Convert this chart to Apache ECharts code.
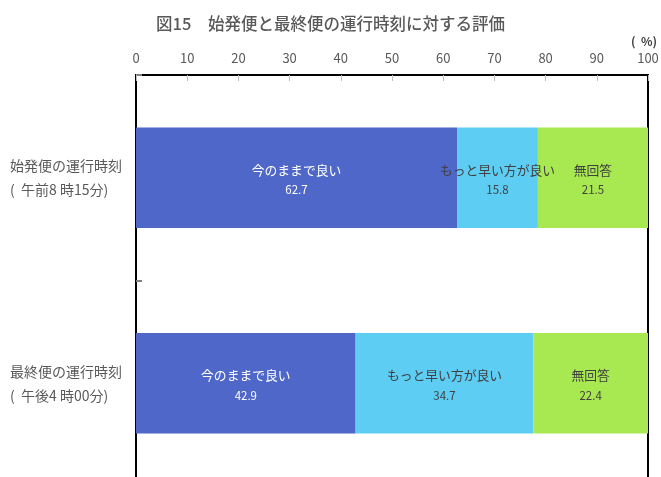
<!DOCTYPE html>
<html>
<head>
<meta charset="utf-8">
<script src="https://cdn.jsdelivr.net/npm/echarts@6/dist/echarts.min.js"></script>
<style>
html,body{margin:0;padding:0;background:#fff;}
#main{width:661px;height:477px;}
</style>
</head>
<body>
<div id="main"></div>
<script>
const categories = ['始発便の運行時刻\n(  午前8 時15分)', '最終便の運行時刻\n(  午後4 時00分)'];
const seriesNames = ['今のままで良い', 'もっと早い方が良い', '無回答'];
const valuesSame = [62.7, 42.9];
const valuesEarlier = [15.8, 34.7];
const valuesNoAnswer = [21.5, 22.4];
const xTicks = [0, 10, 20, 30, 40, 50, 60, 70, 80, 90, 100];

const FONT = '"Noto Sans CJK JP", "Noto Sans", sans-serif';
const colors = ['#4F67C9', '#5ECDF3', '#A8E851'];
const labelColors = ['#ffffff', '#404040', '#404040'];
const seriesData = [valuesSame, valuesEarlier, valuesNoAnswer];

const chart = echarts.init(document.getElementById('main'));
chart.setOption({
  animation: false,
  backgroundColor: '#ffffff',
  textStyle: { fontFamily: FONT },
  title: {
    text: '図15　始発便と最終便の運行時刻に対する評価',
    left: 'center',
    top: 10,
    textStyle: { fontFamily: FONT, fontSize: 16.5, fontWeight: 500, color: '#595959' }
  },
  graphic: [{
    type: 'text',
    right: 4,
    top: 35,
    style: { text: '(  %)', fontFamily: FONT, fontSize: 12, fontWeight: 'bold', fill: '#404040' }
  }],
  grid: {
    left: 136, top: 75, width: 512, height: 411,
    outerBoundsMode: 'none',
    containLabel: false,
    show: true, borderColor: '#000000', borderWidth: 2, backgroundColor: 'transparent'
  },
  xAxis: {
    type: 'value',
    position: 'top',
    min: 0, max: 100, interval: 10,
    axisLine: { show: true, lineStyle: { color: '#000000', width: 2 } },
    axisTick: { show: true, inside: true, length: 6, lineStyle: { color: '#BFBFBF', width: 1 } },
    axisLabel: {
      margin: 10, color: '#595959', fontSize: 13, fontFamily: FONT,
      formatter: function (v) { return xTicks.indexOf(v) >= 0 ? String(v) : ''; }
    },
    splitLine: { show: false }
  },
  yAxis: {
    type: 'category',
    data: categories,
    inverse: true,
    axisLine: { show: true, lineStyle: { color: '#000000', width: 2 } },
    axisTick: { show: true, inside: true, length: 6, lineStyle: { color: '#808080', width: 2 } },
    axisLabel: {
      align: 'left', margin: 126, color: '#595959', fontSize: 14, lineHeight: 24, fontFamily: FONT
    }
  },
  series: seriesNames.map(function (name, i) {
    return {
      name: name,
      type: 'bar',
      stack: 'total',
      barWidth: '49%',
      data: seriesData[i],
      itemStyle: { color: colors[i] },
      label: {
        show: true,
        position: 'inside',
        offset: [0, 2],
        color: labelColors[i],
        fontFamily: FONT,
        formatter: function (p) { return '{n|' + p.seriesName + '}\n{v|' + p.value.toFixed(1) + '}'; },
        rich: {
          n: { fontSize: 12.8, lineHeight: 20, color: labelColors[i], fontFamily: FONT },
          v: { fontSize: 11.5, lineHeight: 20, color: labelColors[i], fontFamily: FONT }
        }
      }
    };
  })
});
</script>
</body>
</html>
